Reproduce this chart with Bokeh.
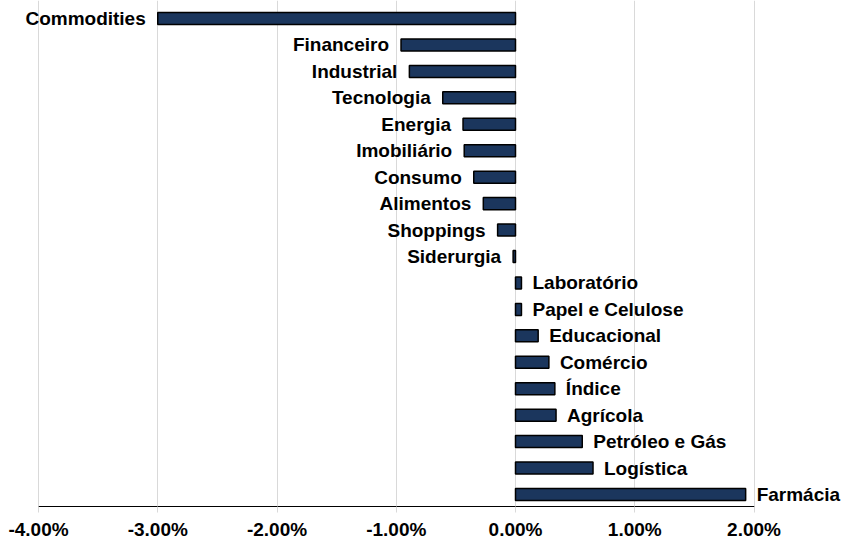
from bokeh.plotting import figure
from bokeh.models import Range1d, FixedTicker, ColumnDataSource
from bokeh.core.properties import value
from bokeh.embed import file_html
from bokeh.resources import INLINE

sectors = ["Commodities", "Financeiro", "Industrial", "Tecnologia", "Energia",
           "Imobiliário", "Consumo", "Alimentos", "Shoppings", "Siderurgia",
           "Laboratório", "Papel e Celulose", "Educacional", "Comércio", "Índice",
           "Agrícola", "Petróleo e Gás", "Logística", "Farmácia"]
returns = [-3.00, -0.96, -0.89, -0.61, -0.44,
           -0.43, -0.35, -0.27, -0.15, -0.02,
           0.05, 0.05, 0.19, 0.28, 0.33,
           0.34, 0.56, 0.65, 1.93]
tick_values = [-4, -3, -2, -1, 0, 1, 2]
tick_labels = ["-4.00%", "-3.00%", "-2.00%", "-1.00%", "0.00%", "1.00%", "2.00%"]

FONT = "Liberation Sans"
BAR = "#1B365D"

W, H = 843, 542
AXIS_PANEL = 37          # expected height of the x-axis panel
FRAME_H = H - AXIS_PANEL
# layout plan in canvas pixels
X_LEFT_PX, X_RIGHT_PX = 38.0, 753.5    # positions of -4% and 2%
PX_PER_UNIT = (X_RIGHT_PX - X_LEFT_PX) / 6.0
x_start = -4 - X_LEFT_PX / PX_PER_UNIT
x_end = x_start + W / PX_PER_UNIT
TOP_PX, BOT_PX = 18.0, 493.0           # centres of first and last bar
n = len(sectors)
STEP = (BOT_PX - TOP_PX) / (n - 1)
y_top = -TOP_PX / STEP
y_bot = (n - 1) + (FRAME_H - BOT_PX) / STEP

idx = list(range(n))
src = ColumnDataSource(dict(y=idx, v=returns, name=sectors))
neg = ColumnDataSource(dict(y=[i for i in idx if returns[i] < 0],
                            v=[r for r in returns if r < 0],
                            name=[sectors[i] for i in idx if returns[i] < 0]))
pos = ColumnDataSource(dict(y=[i for i in idx if returns[i] >= 0],
                            v=[r for r in returns if r >= 0],
                            name=[sectors[i] for i in idx if returns[i] >= 0]))

p = figure(width=W, height=H, output_backend="svg", toolbar_location=None,
           x_range=Range1d(x_start, x_end), y_range=Range1d(y_bot, y_top),
           min_border_left=0, min_border_right=0, min_border_top=0, min_border_bottom=0)
p.outline_line_color = None
p.background_fill_color = "white"
p.yaxis.visible = False
p.ygrid.visible = False

p.xgrid.ticker = FixedTicker(ticks=tick_values)
p.xgrid.grid_line_color = "#d9d9d9"
p.xgrid.grid_line_width = 1

ax = p.xaxis[0]
ax.ticker = FixedTicker(ticks=tick_values)
ax.major_label_overrides = {t: l for t, l in zip(tick_values, tick_labels)}
ax.bounds = (-4, 2)
ax.axis_line_color = "black"
ax.axis_line_width = 1
ax.major_tick_line_color = "#d9d9d9"
ax.major_tick_out = 6
ax.major_tick_in = 0
ax.minor_tick_line_color = None
ax.major_label_text_font = FONT
ax.major_label_text_font_style = "bold"
ax.major_label_text_font_size = "19px"
ax.major_label_text_color = "black"
ax.major_label_standoff = 6
ax.axis_label_standoff = 0

p.hbar(y="y", left=0, right="v", height=12.0 / STEP, source=src,
       fill_color=BAR, line_color="black", line_width=1.5)

common = dict(text="name", text_font=value(FONT), text_font_style="bold",
              text_font_size="19px", text_color="black", text_baseline="middle")
p.text(x="v", y="y", source=neg, text_align="right", x_offset=-12, **common)
p.text(x="v", y="y", source=pos, text_align="left", x_offset=11, **common)

open("out.html", "w").write(file_html(p, INLINE))
